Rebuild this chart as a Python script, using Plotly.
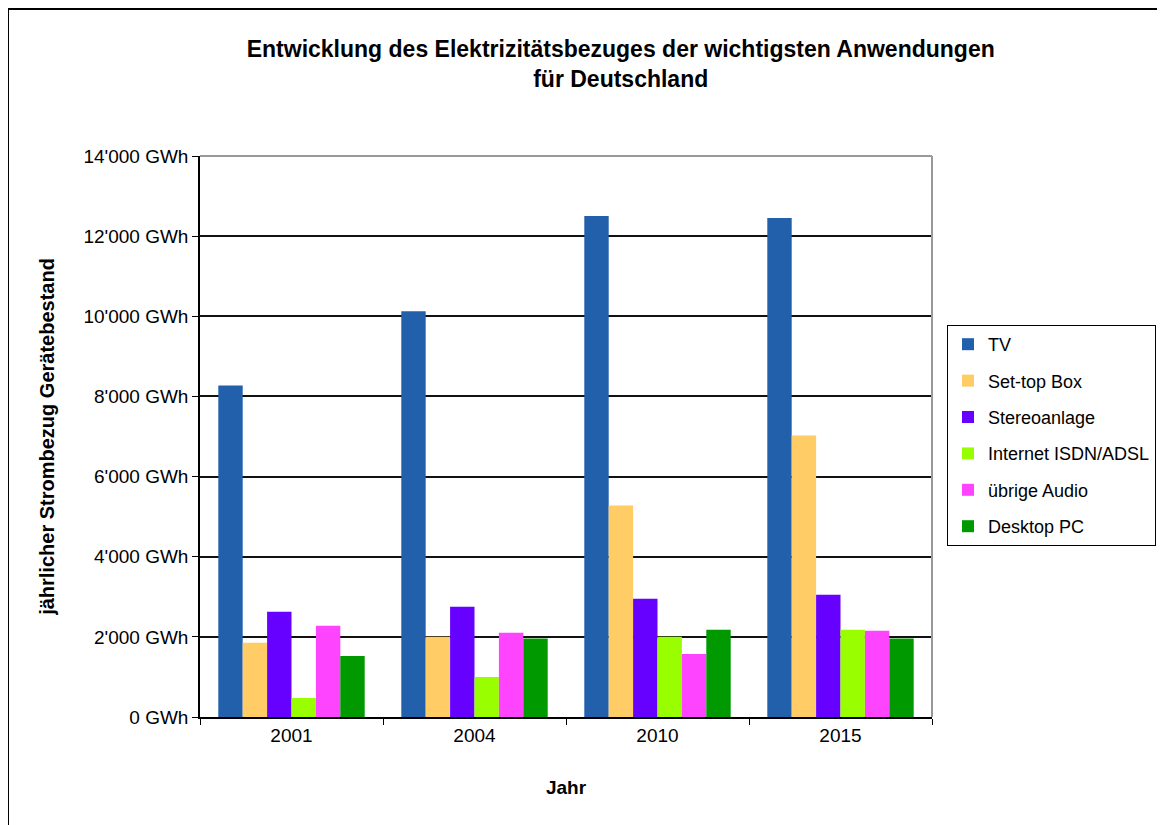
import plotly.graph_objects as go

years = ["2001", "2004", "2010", "2015"]
series_names = ["TV", "Set-top Box", "Stereoanlage", "Internet ISDN/ADSL", "übrige Audio", "Desktop PC"]
tv = [8275, 10125, 12500, 12450]
settop = [1850, 2000, 5275, 7025]
stereo = [2625, 2750, 2950, 3050]
internet = [475, 1000, 2000, 2175]
audio = [2275, 2100, 1575, 2150]
desktop = [1525, 1960, 2175, 1960]
colors = ["#2360AC", "#FFCC66", "#6600FF", "#99FF00", "#FF44FF", "#009900"]

tick_vals = [0, 2000, 4000, 6000, 8000, 10000, 12000, 14000]
tick_text = ["0 GWh", "2'000 GWh", "4'000 GWh", "6'000 GWh", "8'000 GWh", "10'000 GWh", "12'000 GWh", "14'000 GWh"]

values = [tv, settop, stereo, internet, audio, desktop]

fig = go.Figure()
for name, vals, col in zip(series_names, values, colors):
    fig.add_trace(go.Bar(x=years, y=vals, name=name, marker=dict(color=col, line=dict(width=0)),
                         legendgroup=name))

OFF = 8  # page body margin
W, H = 1165, 825
L = 200 - OFF
T = 156 - OFF
R = W - (932 - OFF)
B = H - (717 - OFF)
pw, ph = W - L - R, H - T - B

def px(xs):
    return (xs - OFF - L) / pw

def py(ys):
    return (H - B - (ys - OFF)) / ph

fig.update_layout(
    width=W, height=H,
    margin=dict(l=L, r=R, t=T, b=B, autoexpand=False),
    paper_bgcolor="white", plot_bgcolor="white",
    font=dict(family="Liberation Sans, Arial", size=19, color="black"),
    barmode="group", bargap=0.2, bargroupgap=0,
    title=dict(text="<b>Entwicklung des Elektrizitätsbezuges der wichtigsten Anwendungen<br>für Deutschland</b>",
               x=px(585), xanchor="center", y=1 - (57 - OFF) / H, yanchor="middle",
               font=dict(size=23, family="Liberation Sans, Arial")),
    xaxis=dict(title=dict(text="<b>Jahr</b>", standoff=36, font=dict(size=19)),
               showline=True, linecolor="black", linewidth=1.5,
               ticks="outside", tickson="boundaries", ticklen=6, tickcolor="black",
               tickfont=dict(size=19), mirror=False, showgrid=False),
    yaxis=dict(title=dict(text="<b>jährlicher Strombezug Gerätebestand</b>", standoff=23, font=dict(size=20)),
               range=[0, 14000], tickvals=tick_vals, ticktext=tick_text,
               showline=True, linecolor="black", linewidth=1.5,
               ticks="outside", ticklen=6, tickcolor="black", tickfont=dict(size=19),
               showgrid=True, gridcolor="#111111", gridwidth=1.5, zeroline=False),
    legend=dict(x=px(947), y=py(325), xanchor="left", yanchor="top",
                bordercolor="black", borderwidth=1, bgcolor="white",
                traceorder="grouped", tracegroupgap=10,
                font=dict(size=18), itemwidth=30),
    showlegend=True,
)

# plot area right/top border in grey
fig.add_shape(type="line", xref="paper", yref="paper", x0=1, x1=1, y0=0, y1=1,
              line=dict(color="#999999", width=2))
fig.add_shape(type="line", xref="paper", yref="paper", x0=0, x1=1, y0=1, y1=1,
              line=dict(color="#999999", width=2))
# outer chart border
fig.add_shape(type="rect", xref="paper", yref="paper",
              x0=px(8), x1=px(1180), y0=py(840), y1=py(9),
              line=dict(color="black", width=2), fillcolor="rgba(0,0,0,0)", layer="below")

fig.write_html("out.html")
